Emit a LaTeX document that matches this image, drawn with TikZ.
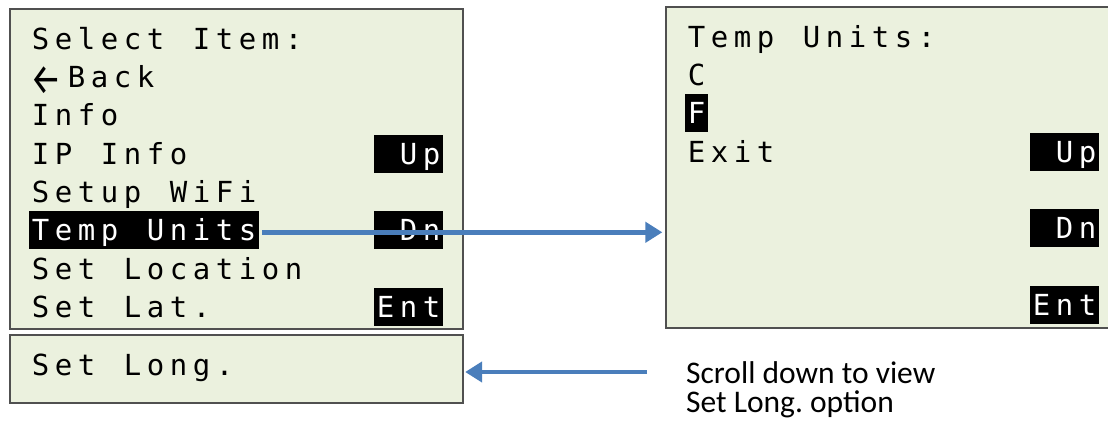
\documentclass[tikz,border=0pt]{standalone}
\usepackage{fontspec}
\usetikzlibrary{arrows.meta}
\newfontfamily\lcdfont{DejaVu Sans Mono}
\newfontfamily\notefont{Carlito}
\newfontfamily\arrowfont{Fira Sans}
\definecolor{lcdbg}{RGB}{235,241,222}
\definecolor{lcdframe}{RGB}{80,80,80}
\definecolor{arrowblue}{RGB}{74,126,187}
\newcommand\lcdcells[1]{\lcdloop#1\relax}
\def\lcdloop#1{\ifx\relax#1\else\makebox[23pt][c]{#1}\expandafter\lcdloop\fi}
\newcommand\backarrow{\makebox[36pt][l]{\hspace*{1pt}\smash{\raisebox{-6.5pt}{\scalebox{1.2}[1.5]{\arrowfont ←}}}}}
\begin{document}
\begin{tikzpicture}[x=1pt,y=-1pt,
  screen/.style={draw=lcdframe, fill=lcdbg, line width=1.3pt, inner sep=0pt},
  hl/.style={fill=black, inner sep=0pt, minimum height=38pt},
  lcd/.style={anchor=base west, inner sep=0pt, text=black, font=\lcdfont\fontsize{29pt}{29pt}\selectfont},
  lcdw/.style={lcd, text=white},
  note/.style={anchor=base west, inner sep=0pt, font=\notefont\fontsize{31.5pt}{33pt}\selectfont},
  arr/.style={draw=arrowblue, line width=4.5pt, -{Triangle[length=17pt,width=20pt]}}]
\useasboundingbox (0,0) rectangle (1108,427);
\clip (0,0) rectangle (1108,427);
% screens
\node[screen, minimum width=453pt, minimum height=320pt] (menu) at (236.5,169) {};
\node[screen, minimum width=453pt, minimum height=68pt] (more) at (236.5,369) {};
\node[screen, minimum width=453pt, minimum height=321pt] (units) at (892.5,167.5) {};
% highlights, left
\node[hl, minimum width=230pt] (tuhl) at (144,230.3) {};
\node[hl, minimum width=69pt] (lup) at (408.5,153.7) {};
\node[hl, minimum width=69pt] (ldn) at (408.5,230.3) {};
\node[hl, minimum width=69pt] (lent) at (408.5,306.9) {};
% highlights, right
\node[hl, minimum width=23pt] (fhl) at (696.5,113.3) {};
\node[hl, minimum width=69pt] (rup) at (1064.5,151.6) {};
\node[hl, minimum width=69pt] (rdn) at (1064.5,228.2) {};
\node[hl, minimum width=69pt] (rent) at (1064.5,304.8) {};
% left text
\node[lcd] (l0) at (29,49.3) {\lcdcells{Select~Item:}};
\node[lcd] (l1) at (29,87.6) {\backarrow\lcdcells{Back}};
\node[lcd] (l2) at (29,125.9) {\lcdcells{Info}};
\node[lcd] (l3) at (29,164.2) {\lcdcells{IP~Info}};
\node[lcdw] (l3b) at (374,164.2) {\lcdcells{~Up}};
\node[lcd] (l4) at (29,202.5) {\lcdcells{Setup~WiFi}};
\node[lcdw] (l5) at (29,240.8) {\lcdcells{Temp~Units}};
\node[lcdw] (l5b) at (374,240.8) {\lcdcells{~Dn}};
\node[lcd] (l6) at (29,279.1) {\lcdcells{Set~Location}};
\node[lcd] (l7) at (29,317.4) {\lcdcells{Set~Lat.}};
\node[lcdw] (l7b) at (374,317.4) {\lcdcells{Ent}};
\node[lcd] (m0) at (29,375) {\lcdcells{Set~Long.}};
% right text
\node[lcd] (r0) at (685,47.2) {\lcdcells{Temp~Units:}};
\node[lcd] (r1) at (685,85.5) {\lcdcells{C}};
\node[lcdw] (r2) at (685,123.8) {\lcdcells{F}};
\node[lcd] (r3) at (685,162.1) {\lcdcells{Exit}};
\node[lcdw] (r3b) at (1030,162.1) {\lcdcells{~Up}};
\node[lcdw] (r5b) at (1030,238.7) {\lcdcells{~Dn}};
\node[lcdw] (r7b) at (1030,315.3) {\lcdcells{Ent}};
% note
\node[note] (n1) at (686,383) {Scroll down to view};
\node[note] (n2) at (686,412) {Set Long.\ option};
% arrows
\coordinate (a1s) at ([xshift=3pt,yshift=-2pt]tuhl.east);
\draw[arr, shorten >=3pt] (a1s) -- (a1s -| units.west);
\coordinate (a2s) at (647,372);
\draw[arr, shorten >=1.5pt] (a2s) -- (a2s -| more.east);
\end{tikzpicture}
\end{document}
